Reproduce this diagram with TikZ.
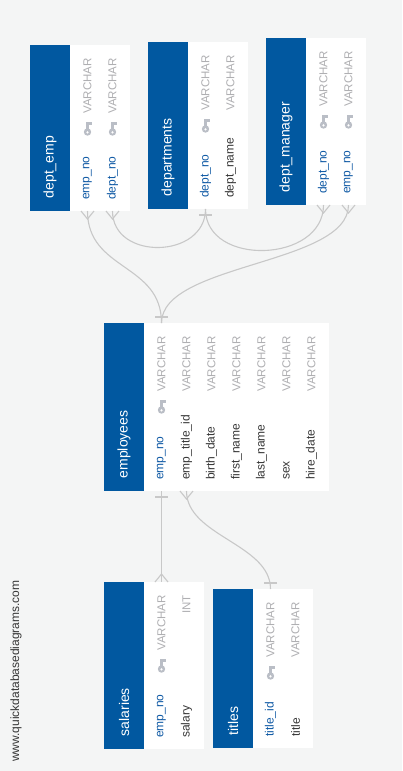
\documentclass[tikz,border=0pt]{standalone}
\usepackage{fontspec}
\setmainfont{Liberation Sans}
\definecolor{headblue}{RGB}{1,88,160}
\definecolor{keyblue}{RGB}{16,90,165}
\definecolor{fieldtext}{RGB}{55,55,55}
\definecolor{typegray}{RGB}{175,175,178}
\definecolor{keygray}{RGB}{186,190,198}
\definecolor{relgray}{RGB}{200,200,200}
\definecolor{bggray}{RGB}{244,245,245}
\def\pkmark{pk}

% id, title, left, top, bottom, rows, fields
\newcommand{\erdtable}[7]{%
  \node[tblbody, minimum width={50+25*#6}, minimum height={#5-#4}] (#1) at (#3,-#4) {};
  \node[tblhead, minimum width=40, minimum height={#5-#4}] (#1-head) at (#3,-#4) {};
  \node[tbltitle, rotate=90, anchor=west] at ([yshift=12.5]#1-head.south) {#2};
  \foreach \fname/\ftype/\fkind [count=\i] in {#7} {
    \coordinate (#1-\i-n) at ([xshift={32.5+25*\i}]#1.north west);
    \coordinate (#1-\i-s) at ([xshift={32.5+25*\i}]#1.south west);
    \ifx\fkind\pkmark
      \pic at ([yshift=-84]#1-\i-n) {keyicon};
      \def\fcolor{keyblue}
    \else
      \def\fcolor{fieldtext}
    \fi
    \node[field, text=\fcolor, rotate=90, anchor=west] at ([yshift=11]#1-\i-s) {\fname};
    \node[fieldtype, rotate=90, anchor=east] at ([yshift=-13]#1-\i-n) {\ftype};
  }
}

\begin{document}
\begin{tikzpicture}[x=1pt, y=1pt,
   tblbody/.style={fill=white, inner sep=0, outer sep=0, anchor=north west},
   tblhead/.style={fill=headblue, inner sep=0, outer sep=0, anchor=north west},
   tbltitle/.style={text=white, inner sep=0, font=\fontsize{14}{16}\selectfont},
   field/.style={inner sep=0, font=\fontsize{12}{14}\selectfont},
   fieldtype/.style={text=typegray, inner sep=0, font=\fontsize{11.5}{13}\selectfont},
   rel/.style={draw=relgray, line width=1.1pt},
   keyicon/.pic={
     \fill[keygray] (0,-3) circle (3.7);
     \fill[white] (0,-3.4) circle (1.2);
     \fill[keygray] (-1.4,0) rectangle (1.4,7);
     \fill[keygray] (1.4,4) rectangle (4,7);
   },
   crow/.pic={\draw[rel] (-6.5,0) -- (0,-8) -- (6.5,0);},
   onebar/.pic={\draw[rel] (-6.5,-6) -- (6.5,-6);}]
\fill[bggray] (0,0) rectangle (402,-771);
\useasboundingbox (0,0) rectangle (402,-771);

\erdtable{deptemp}{dept\_emp}{30}{45}{211}{2}{emp\_no/VARCHAR/pk, dept\_no/VARCHAR/pk}
\erdtable{depts}{departments}{148}{42}{209}{2}{dept\_no/VARCHAR/pk, dept\_name/VARCHAR/plain}
\erdtable{deptmgr}{dept\_manager}{266}{38}{205}{2}{dept\_no/VARCHAR/pk, emp\_no/VARCHAR/pk}
\erdtable{emp}{employees}{104}{323}{491}{7}{emp\_no/VARCHAR/pk, emp\_title\_id/VARCHAR/plain,
   birth\_date/VARCHAR/plain, first\_name/VARCHAR/plain, last\_name/VARCHAR/plain,
   sex/VARCHAR/plain, hire\_date/VARCHAR/plain}
\erdtable{sal}{salaries}{104}{582}{749}{2}{emp\_no/VARCHAR/pk, salary/INT/plain}
\erdtable{ttl}{titles}{213}{589}{748}{2}{title\_id/VARCHAR/pk, title/VARCHAR/plain}

\draw[rel] (deptemp-1-s) .. controls +(0,-60) and +(0,60) .. (emp-1-n);
\draw[rel] (deptemp-2-s) .. controls +(0,-50) and +(0,-50) .. (depts-1-s);
\draw[rel] (deptmgr-1-s) .. controls +(0,-58) and +(0,-58) .. (depts-1-s);
\draw[rel] (deptmgr-2-s) .. controls +(0,-60) and +(0,60) .. (emp-1-n);
\draw[rel] (emp-1-s) -- (sal-1-n);
\draw[rel] (emp-2-s) .. controls +(0,-45) and +(0,45) .. (ttl-1-n);

\pic at (deptemp-1-s) {crow};
\pic at (deptemp-2-s) {crow};
\pic at (deptmgr-1-s) {crow};
\pic at (deptmgr-2-s) {crow};
\pic at (depts-1-s) {onebar};
\pic[rotate=180] at (emp-1-n) {onebar};
\pic at (emp-1-s) {onebar};
\pic at (emp-2-s) {crow};
\pic[rotate=180] at (sal-1-n) {crow};
\pic[rotate=180] at (ttl-1-n) {onebar};

\node[text=fieldtext, rotate=90, anchor=west, inner sep=0, font=\fontsize{12}{14}\selectfont]
   (credit) at (16,-762) {www.quickdatabasediagrams.com};
\end{tikzpicture}
\end{document}
